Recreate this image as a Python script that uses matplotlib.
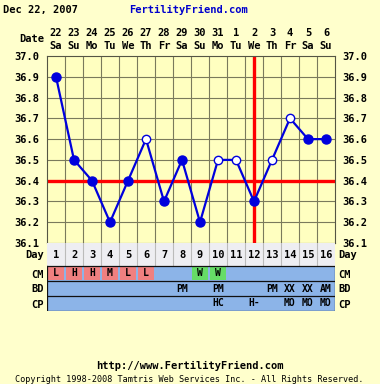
import matplotlib.pyplot as plt
from matplotlib.patches import Rectangle

dates = ['22', '23', '24', '25', '26', '27', '28', '29', '30', '31', '1', '2', '3', '4', '5', '6']
weekdays = ['Sa', 'Su', 'Mo', 'Tu', 'We', 'Th', 'Fr', 'Sa', 'Su', 'Mo', 'Tu', 'We', 'Th', 'Fr', 'Sa', 'Su']
days = list(range(1, 17))
temps = [36.9, 36.5, 36.4, 36.2, 36.4, 36.6, 36.3, 36.5, 36.2, 36.5, 36.5, 36.3, 36.5, 36.7, 36.6, 36.6]
open_pt = [0, 0, 0, 0, 0, 1, 0, 0, 0, 1, 1, 0, 1, 1, 0, 0]
coverline = 36.4
ovulation_day = 12
cm = ['L', 'H', 'H', 'M', 'L', 'L', '', '', 'W', 'W', '', '', '', '', '', '']
bd = ['', '', '', '', '', '', '', 'PM', '', 'PM', '', '', 'PM', 'XX', 'XX', 'AM']
cp = ['', '', '', '', '', '', '', '', '', 'HC', '', 'H-', '', 'MO', 'MO', 'MO']
yticks = [36.1, 36.2, 36.3, 36.4, 36.5, 36.6, 36.7, 36.8, 36.9, 37.0]

W, H = 380, 384
BG = '#FFFFCC'
BLUE = '#0000DD'
mono = 'DejaVu Sans Mono'

fig = plt.figure(figsize=(3.8, 3.84), dpi=100)
fig.patch.set_facecolor(BG)

def fx(px):
    return px / W

def fy(py):
    return 1 - py / H

L, R, T, B = 47, 335, 56, 243
ax = fig.add_axes([fx(L), fy(B), fx(R - L), fy(T) - fy(B)])
ax.set_facecolor('#FFFFC0')
ax.set_xlim(0.5, 16.5)
ax.set_ylim(36.1, 37.0)
for x in range(1, 16):
    ax.axvline(x + 0.5, color='#7A7A5C', lw=0.8, zorder=1)
for y in yticks[1:-1]:
    ax.axhline(y, color='#7A7A5C', lw=0.8, zorder=1)
ax.axhline(coverline, color='#FF0000', lw=2.4, zorder=2)
ax.axvline(ovulation_day, color='#FF0000', lw=2.4, zorder=2)
ax.plot(days, temps, color=BLUE, lw=1.6, zorder=3)
fx_days = [d for d, o in zip(days, open_pt) if not o]
fx_t = [t for t, o in zip(temps, open_pt) if not o]
ox_days = [d for d, o in zip(days, open_pt) if o]
ox_t = [t for t, o in zip(temps, open_pt) if o]
ax.plot(fx_days, fx_t, 'o', ms=6.5, color=BLUE, zorder=4)
ax.plot(ox_days, ox_t, 'o', ms=6, mfc='white', mec=BLUE, mew=1.0, zorder=4)
ax.set_xticks([])
ax.set_yticks(yticks)
ax.set_yticklabels(['%.1f' % v for v in yticks], fontfamily=mono, fontweight='bold', fontsize=7.5)
ax.tick_params(axis='y', which='both', left=False, right=False, labelleft=True, labelright=True, pad=2)
for s in ax.spines.values():
    s.set_color('#555544')
    s.set_linewidth(0.8)

# top date header
col_w = (R - L) / 16
for i in range(16):
    cx = L + col_w * (i + 0.5)
    fig.text(fx(cx), fy(33), dates[i], ha='center', va='center', fontfamily=mono, fontweight='bold', fontsize=7.5)
    fig.text(fx(cx), fy(46), weekdays[i], ha='center', va='center', fontfamily=mono, fontweight='bold', fontsize=7.5)
fig.text(fx(44), fy(39), 'Date', ha='right', va='center', fontfamily=mono, fontweight='bold', fontsize=7.5)
fig.text(fx(3), fy(10), 'Dec 22, 2007', ha='left', va='center', fontfamily=mono, fontweight='bold', fontsize=7.5)
fig.text(fx(189), fy(10), 'FertilityFriend.com', ha='center', va='center', fontfamily=mono, fontweight='bold', fontsize=7.5, color='#0000CC')

# table below chart
TB = 311
tax = fig.add_axes([fx(L), fy(TB), fx(R - L), fy(B) - fy(TB)])
tax.set_xlim(0.5, 16.5)
tax.set_ylim(TB, B)
tax.axis('off')
rows = [(243, 266), (266, 281), (281, 296), (296, 311)]
tax.add_patch(Rectangle((0.5, 243), 16, 23, facecolor='#EEEEF2', edgecolor='none'))
tax.add_patch(Rectangle((0.5, 266), 16, 45, facecolor='#8CB4E8', edgecolor='none'))
for i, c in enumerate(cm):
    if c in ('L', 'H', 'M'):
        tax.add_patch(Rectangle((i + 0.55, 266.8), 0.9, 13.6, facecolor='#F08080', edgecolor='none'))
    elif c == 'W':
        tax.add_patch(Rectangle((i + 0.55, 266.8), 0.9, 13.6, facecolor='#66DD66', edgecolor='none'))
for x in range(1, 16):
    tax.plot([x + 0.5, x + 0.5], [243, 266], color='#BBBBBB', lw=0.8)
for y0, y1 in rows[1:]:
    tax.plot([0.5, 16.5], [y0, y0], color='#111111', lw=0.9)
tax.plot([0.5, 16.5], [TB, TB], color='#111111', lw=0.9)
tax.plot([0.5, 0.5], [266, TB], color='#111111', lw=0.9)
tax.plot([16.5, 16.5], [266, TB], color='#111111', lw=0.9)
for i in range(16):
    tax.text(days[i], 255, str(days[i]), ha='center', va='center', fontfamily=mono, fontweight='bold', fontsize=7.5)
    for (y0, y1), vals in zip(rows[1:], [cm, bd, cp]):
        if vals[i]:
            tax.text(days[i], (y0 + y1) / 2, vals[i], ha='center', va='center', fontfamily=mono, fontweight='bold', fontsize=7)
for (y0, y1), lab in zip(rows, ['Day', 'CM', 'BD', 'CP']):
    fig.text(fx(44), fy((y0 + y1) / 2 + 1), lab, ha='right', va='center', fontfamily=mono, fontweight='bold', fontsize=7.5)
    fig.text(fx(338), fy((y0 + y1) / 2 + 1), lab, ha='left', va='center', fontfamily=mono, fontweight='bold', fontsize=7.5)

# footer
fig.text(fx(190), fy(366), 'http://www.FertilityFriend.com', ha='center', va='center', fontfamily=mono, fontweight='bold', fontsize=7.5)
fig.text(fx(189), fy(379), 'Copyright 1998-2008 Tamtris Web Services Inc. - All Rights Reserved.',
         ha='center', va='center', fontfamily=mono, fontsize=6.1)

fig.savefig('out.png', dpi=100, facecolor=BG)
